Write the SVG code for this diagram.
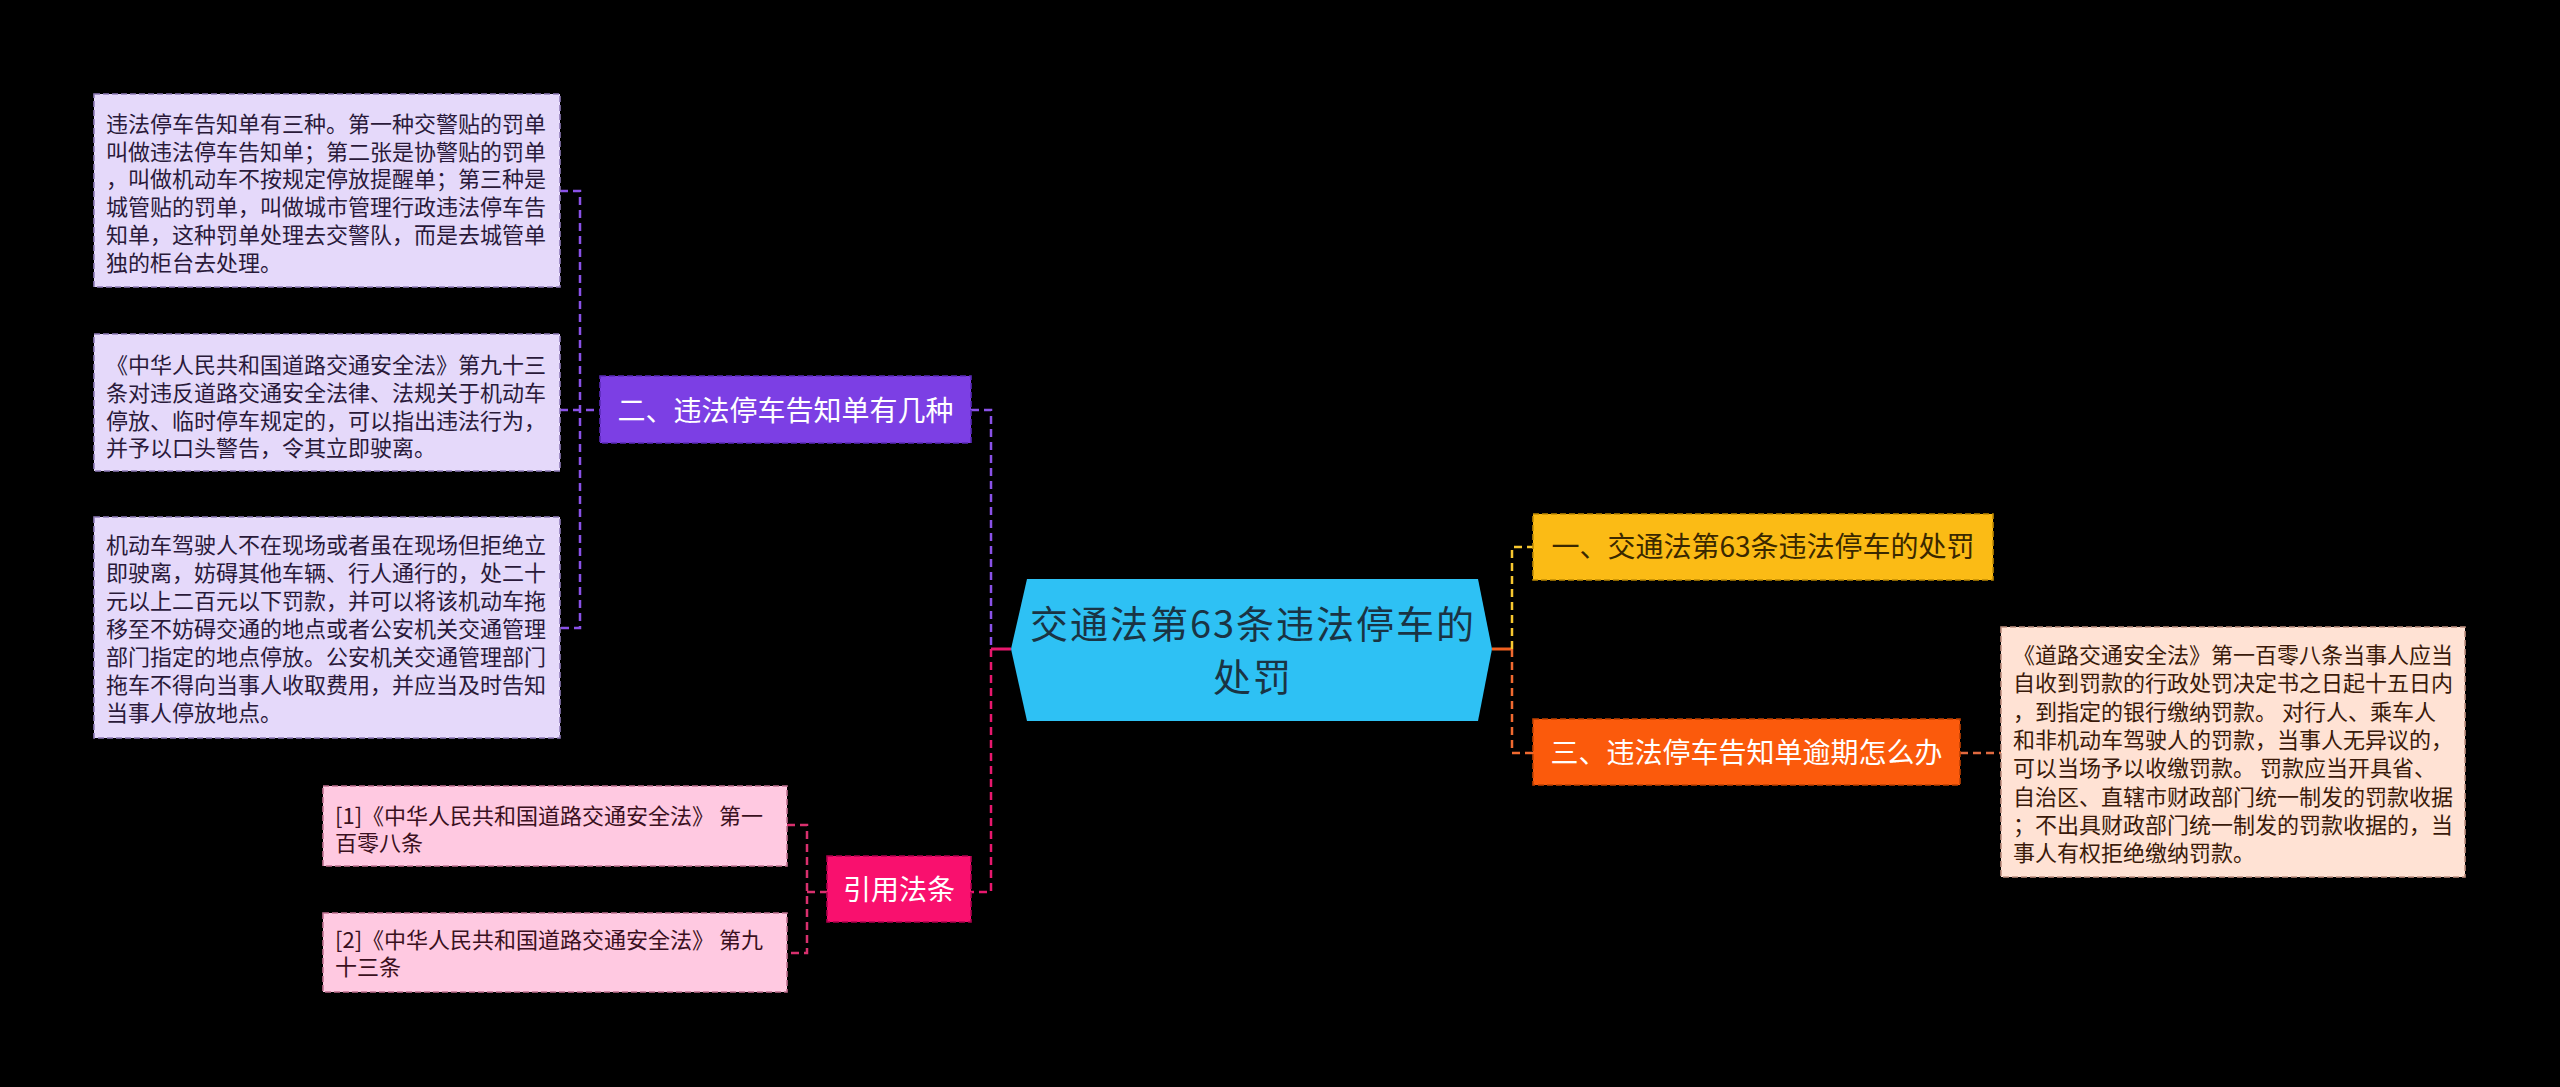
<svg xmlns="http://www.w3.org/2000/svg" width="2560" height="1087" viewBox="0 0 2560 1087">
<style>
text{font-family:"Noto Sans CJK SC","Noto Sans",sans-serif}
.leaf{font-size:22px;fill:#2a1a3a}
.leafp{font-size:22px;fill:#3a1020}
.leafo{font-size:22px;fill:#3a1a0a}
.br{font-size:28px;text-anchor:middle}
.ct{font-size:38px;letter-spacing:2px;text-anchor:middle;fill:#1a3444}
.c{stroke-width:2.5;fill:none;stroke-dasharray:8 5}
.s{stroke-width:3;fill:none}
.bx{stroke-width:1.6;stroke-dasharray:6 3}
</style>
<rect width="2560" height="1087" fill="#000"/>
<g id="connectors">
<path class="c" stroke="#8A52E8" d="M560 191H580V628H560M560 410H600"/>
<path class="c" stroke="#8A52E8" d="M971 410H991V649"/>
<path class="c" stroke="#E8186E" d="M991 649V892H971"/>
<path class="s" stroke="#E8186E" d="M991 649H1011"/>
<path class="c" stroke="#D8306E" d="M787 825H807V953H787M807 892H827"/>
<path class="s" stroke="#F06020" d="M1492 649H1512"/>
<path class="c" stroke="#F8C830" d="M1512 649V547H1533"/>
<path class="c" stroke="#F06A30" d="M1512 649V753H1533"/>
<path class="c" stroke="#E06A40" d="M1960 753H2001"/>
</g>
<g id="center">
<polygon points="1011,649 1027,579 1478,579 1492,649 1478,721 1027,721" fill="#2EC1F4"/>
<text class="ct" x="1253" y="638">交通法第63条违法停车的</text>
<text class="ct" x="1253" y="691">处罚</text>
</g>
<g id="branch2">
<rect class="bx" x="600" y="376" width="371" height="67" fill="#7C3FE4" stroke="#5A2AB8"/>
<text class="br" x="785.5" y="421" fill="#fff">二、违法停车告知单有几种</text>
</g>
<g id="leaf1">
<rect class="bx" x="94" y="94" width="466" height="193" fill="#E5D9FA" stroke="#8E7BB8"/>
<text class="leaf" x="106" y="132">违法停车告知单有三种。第一种交警贴的罚单</text>
<text class="leaf" x="106" y="159.7">叫做违法停车告知单；第二张是协警贴的罚单</text>
<text class="leaf" x="106" y="187.4">，叫做机动车不按规定停放提醒单；第三种是</text>
<text class="leaf" x="106" y="215.1">城管贴的罚单，叫做城市管理行政违法停车告</text>
<text class="leaf" x="106" y="242.8">知单，这种罚单处理去交警队，而是去城管单</text>
<text class="leaf" x="106" y="270.5">独的柜台去处理。</text>
</g>
<g id="leaf2">
<rect class="bx" x="94" y="334" width="466" height="137" fill="#E5D9FA" stroke="#8E7BB8"/>
<text class="leaf" x="106" y="373">《中华人民共和国道路交通安全法》第九十三</text>
<text class="leaf" x="106" y="400.8">条对违反道路交通安全法律、法规关于机动车</text>
<text class="leaf" x="106" y="428.6">停放、临时停车规定的，可以指出违法行为，</text>
<text class="leaf" x="106" y="456.4">并予以口头警告，令其立即驶离。</text>
</g>
<g id="leaf3">
<rect class="bx" x="94" y="517" width="466" height="221" fill="#E5D9FA" stroke="#8E7BB8"/>
<text class="leaf" x="106" y="553">机动车驾驶人不在现场或者虽在现场但拒绝立</text>
<text class="leaf" x="106" y="581">即驶离，妨碍其他车辆、行人通行的，处二十</text>
<text class="leaf" x="106" y="609">元以上二百元以下罚款，并可以将该机动车拖</text>
<text class="leaf" x="106" y="637">移至不妨碍交通的地点或者公安机关交通管理</text>
<text class="leaf" x="106" y="665">部门指定的地点停放。公安机关交通管理部门</text>
<text class="leaf" x="106" y="693">拖车不得向当事人收取费用，并应当及时告知</text>
<text class="leaf" x="106" y="721">当事人停放地点。</text>
</g>
<g id="branch4">
<rect class="bx" x="827" y="856" width="144" height="66" fill="#F9106E" stroke="#B0004E"/>
<text class="br" x="899" y="900" fill="#fff">引用法条</text>
</g>
<g id="ref1">
<rect class="bx" x="323" y="786" width="464" height="80" fill="#FFC9E1" stroke="#C07090"/>
<text class="leafp" x="335" y="824">[1]《中华人民共和国道路交通安全法》 第一</text>
<text class="leafp" x="335" y="851">百零八条</text>
</g>
<g id="ref2">
<rect class="bx" x="323" y="913" width="464" height="79" fill="#FFC9E1" stroke="#C07090"/>
<text class="leafp" x="335" y="948">[2]《中华人民共和国道路交通安全法》 第九</text>
<text class="leafp" x="335" y="975">十三条</text>
</g>
<g id="branch1">
<rect class="bx" x="1533" y="514" width="460" height="66" fill="#FBBB15" stroke="#C08A00"/>
<text class="br" x="1763" y="557" fill="#3a2800">一、交通法第63条违法停车的处罚</text>
</g>
<g id="branch3">
<rect class="bx" x="1533" y="719" width="427" height="66" fill="#FB5A0C" stroke="#C04000"/>
<text class="br" x="1746.5" y="763" fill="#fff">三、违法停车告知单逾期怎么办</text>
</g>
<g id="leaf4">
<rect class="bx" x="2001" y="627" width="464" height="250" fill="#FFE2D4" stroke="#C09080"/>
<text class="leafo" x="2013" y="663">《道路交通安全法》第一百零八条当事人应当</text>
<text class="leafo" x="2013" y="691.3">自收到罚款的行政处罚决定书之日起十五日内</text>
<text class="leafo" x="2013" y="719.6">，到指定的银行缴纳罚款。 对行人、乘车人</text>
<text class="leafo" x="2013" y="747.9">和非机动车驾驶人的罚款，当事人无异议的，</text>
<text class="leafo" x="2013" y="776.2">可以当场予以收缴罚款。 罚款应当开具省、</text>
<text class="leafo" x="2013" y="804.5">自治区、直辖市财政部门统一制发的罚款收据</text>
<text class="leafo" x="2013" y="832.8">；不出具财政部门统一制发的罚款收据的，当</text>
<text class="leafo" x="2013" y="861.1">事人有权拒绝缴纳罚款。</text>
</g>
</svg>
